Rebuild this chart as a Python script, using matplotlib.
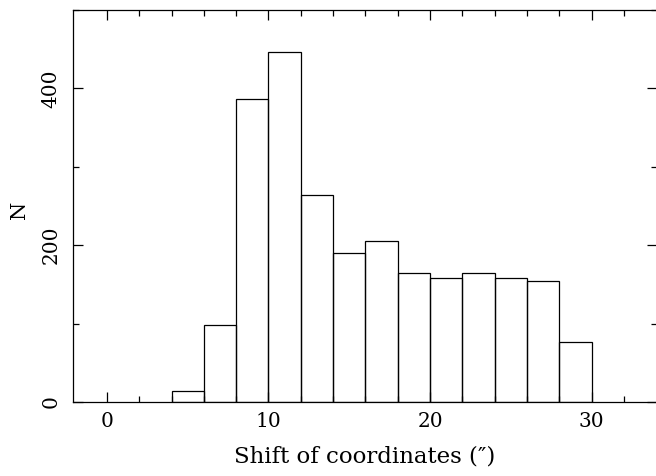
import matplotlib
matplotlib.use("Agg")
import matplotlib.pyplot as plt
from matplotlib.ticker import MultipleLocator

bin_left = [4, 6, 8, 10, 12, 14, 16, 18, 20, 22, 24, 26, 28]
counts = [14, 98, 387, 447, 264, 190, 205, 165, 158, 165, 158, 154, 76]
bin_width = 2

xlabel = "Shift of coordinates (\u2033)"
ylabel = "N"

plt.rcParams['font.family'] = ['DejaVu Serif']

fig = plt.figure(figsize=(6.56, 4.76), dpi=100)
ax = fig.add_axes([73/656, 74/476, 584/656, 392/476])

ax.bar(bin_left, counts, width=bin_width, align='edge', fill=False,
       edgecolor='black', linewidth=0.9)

ax.set_xlim(-2.1, 34.05)
ax.set_ylim(0, 500)

ax.set_xticks([0, 10, 20, 30])
ax.set_xticks([t for t in range(0, 34, 2) if t % 10 != 0], minor=True)
ax.yaxis.set_major_locator(MultipleLocator(200))
ax.yaxis.set_minor_locator(MultipleLocator(100))

ax.tick_params(which='both', direction='in', top=True, right=True, width=0.9,
               labelsize=14.5, colors='black')
ax.tick_params(which='major', length=7.5)
ax.tick_params(axis='x', which='major', pad=7)
ax.tick_params(axis='y', which='major', pad=9)
ax.tick_params(which='minor', length=4)
for lab in ax.get_yticklabels():
    lab.set_rotation(90)
    lab.set_va('center')

for s in ax.spines.values():
    s.set_linewidth(0.9)

ax.set_xlabel(xlabel, fontsize=16.5, va='center')
ax.xaxis.set_label_coords(0.5, (402 - 457) / 392)
ax.set_ylabel(ylabel, fontsize=15, va='center')
ax.yaxis.set_label_coords((20 - 73) / 584, 0.49)

fig.savefig("out.png", dpi=100)
